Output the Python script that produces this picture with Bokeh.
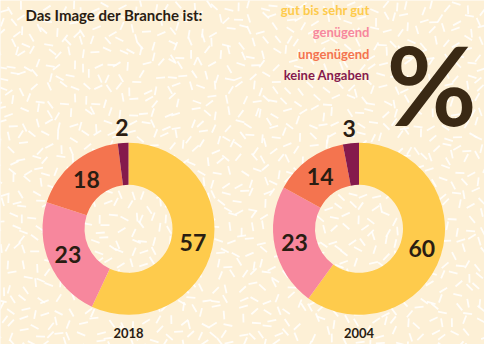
import numpy as np
from bokeh.plotting import figure
from bokeh.models import Range1d, ColumnDataSource
from bokeh.core.properties import value
from bokeh.embed import file_html
from bokeh.resources import INLINE

# ---------------- data ----------------
categories = ["gut bis sehr gut", "genügend", "ungenügend", "keine Angaben"]
years = ["2018", "2004"]
values_2018 = [57, 23, 18, 2]
values_2004 = [60, 23, 14, 3]
colors = ["#fecb4c", "#f7879d", "#f4744f", "#851a4c"]
title_text = "Das Image der Branche ist:"
unit_text = "%"

# ---------------- style / layout ----------------
BG = "#fdf0d6"
INK = "#2a1d12"
FONT = value("Lato")
CENTERS = [(136.0, 120.0), (366.5, 120.0)]
R_OUT, R_IN = 86, 44

p = figure(width=484, height=344, x_range=Range1d(8, 492), y_range=Range1d(1, 355),
           output_backend="svg", toolbar_location=None, min_border=0,
           x_axis_location=None, y_axis_location=None,
           background_fill_color=BG, border_fill_color=BG, outline_line_color=None)
p.grid.visible = False

# decorative background texture (white confetti dashes, not data)
rng = np.random.default_rng(11)
gx, gy = np.meshgrid(np.arange(8, 496, 12.0), np.arange(0, 360, 12.0))
dx = gx.ravel() + rng.uniform(-5, 5, gx.size)
dy = gy.ravel() + rng.uniform(-5, 5, gy.size)
ang = rng.uniform(0, np.pi, gx.size)
L = 4.5
p.segment(x0=dx - L * np.cos(ang), y0=dy - L * np.sin(ang),
          x1=dx + L * np.cos(ang), y1=dy + L * np.sin(ang),
          line_color="white", line_width=1.8, line_alpha=0.85)

# donuts
for (cx, cy), vals, yr in zip(CENTERS, [values_2018, values_2004], years):
    v = np.array(vals, dtype=float)
    cum = np.concatenate([[0], np.cumsum(v)])
    start = np.pi / 2 - 2 * np.pi * cum[:-1] / 100
    end = np.pi / 2 - 2 * np.pi * cum[1:] / 100
    src = ColumnDataSource(dict(start=start, end=end, color=colors, cat=categories))
    p.annular_wedge(x=cx, y=cy, inner_radius=R_IN, outer_radius=R_OUT,
                    start_angle="start", end_angle="end", direction="clock",
                    fill_color="color", line_color=None, source=src)
    mid = np.pi / 2 - 2 * np.pi * (cum[:-1] + v / 2) / 100
    r = np.where(v > 5, 66, 104)
    lab = ColumnDataSource(dict(x=cx + r * np.cos(mid), y=cy + r * np.sin(mid),
                                t=[str(int(a)) for a in vals]))
    p.text(x="x", y="y", text="t", source=lab, text_font=FONT, text_font_style="bold",
           text_font_size="23px", text_color=INK, text_align="center", text_baseline="middle")
    p.text(x=[cx], y=[13], text=[yr], text_font=FONT, text_font_style="bold",
           text_font_size="13px", text_color=INK, text_align="center", text_baseline="middle")

# title
p.text(x=[33], y=[340], text=[title_text], text_font=FONT, text_font_style="bold",
       text_font_size="15px", text_color=INK, text_align="left", text_baseline="alphabetic")

# legend as coloured text
leg_y = [345 - 22.3 * i for i in range(len(categories))]
p.text(x=[377] * len(categories), y=leg_y, text=categories, text_color=colors,
       text_font=FONT, text_font_style="bold", text_font_size="13px",
       text_align="right", text_baseline="middle")

# big percent sign
p.text(x=[439], y=[270], text=[unit_text], text_font=FONT, text_font_style="bold",
       text_font_size="110px", text_color="#3a2914", text_align="center",
       text_baseline="alphabetic")

open("out.html", "w").write(file_html(p, INLINE))
